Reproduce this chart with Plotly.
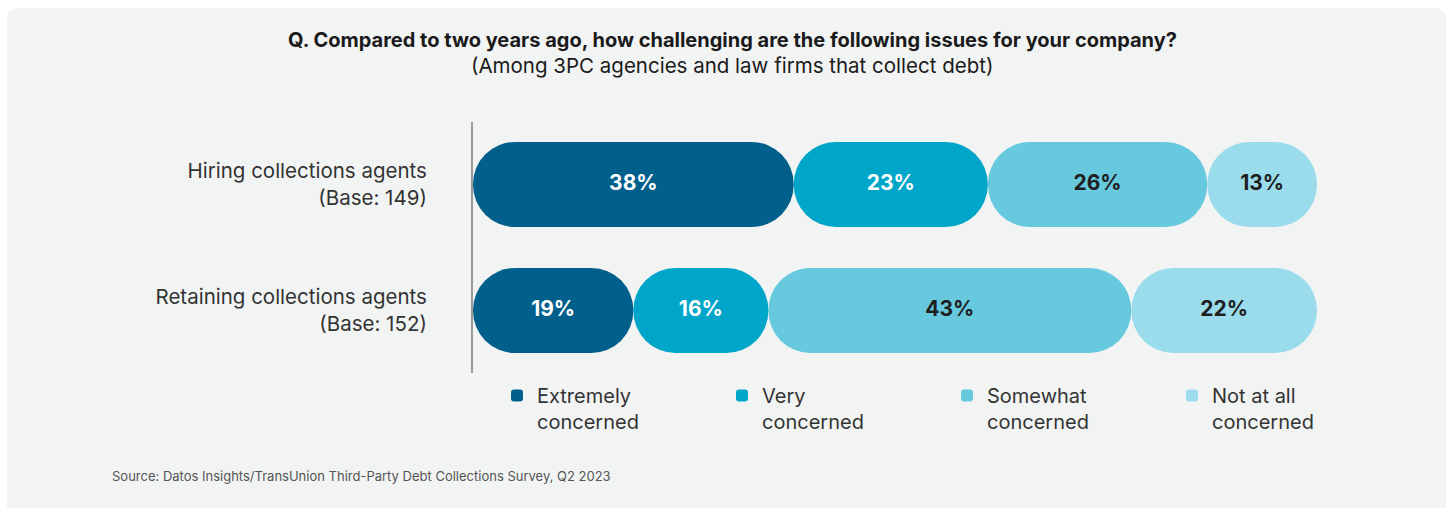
import plotly.graph_objects as go

# Survey rows and answer shares (%)
rows = ["Hiring collections agents<br>(Base: 149)", "Retaining collections agents<br>(Base: 152)"]
levels = ["Extremely<br>concerned", "Very<br>concerned", "Somewhat<br>concerned", "Not at all<br>concerned"]
extremely = [38, 19]
very = [23, 16]
somewhat = [26, 43]
not_at_all = [13, 22]

colors = ["#00608b", "#00a6c9", "#66c9de", "#9bdcec"]
label_colors = ["#ffffff", "#ffffff", "#1e1e1e", "#1e1e1e"]
FONT = "Inter"

series = [extremely, very, somewhat, not_at_all]
ypos = list(range(len(rows)))
BAR_W = 0.675

fig = go.Figure()

starts = [0.0] * len(rows)
for k, (name, vals) in enumerate(zip(levels, series)):
    s = starts[:]
    e = [a + v for a, v in zip(s, vals)]
    m = [(a + b) / 2 for a, b in zip(s, e)]
    # each answer share is its own pill, placed after the previous ones
    fig.add_trace(go.Bar(
        y=ypos, base=s, x=vals, orientation="h", width=BAR_W, name=name,
        marker=dict(color=colors[k], line=dict(width=0), cornerradius="50%"),
        hoverinfo="skip",
    ))
    # value labels centred on each pill
    fig.add_trace(go.Scatter(
        x=m, y=ypos, mode="text", text=[f"<b>{v}%</b>" for v in vals],
        textposition="middle center",
        textfont=dict(family=FONT, size=21, color=label_colors[k]),
        showlegend=False, hoverinfo="skip",
    ))
    starts = e

# pixel geometry: 0..100 % spans x = 473..1317; plot area extends to 1430 to leave room for the legend
L, R_FULL, R_AREA, T, B = 473, 1317, 1430, 122, 373
W, H = 1450, 508
x_max = 100 * (R_AREA - L) / (R_FULL - L)

def px(xp):
    return (xp - L) / (R_AREA - L)

def py(yp):
    return (B - yp) / (B - T)

# light panel with rounded top corners
x0, x1, y0, y1, r = 7, 1446, 8, 530, 12
panel = (
    f"M {px(x0)},{py(y1)} L {px(x0)},{py(y0 + r)} Q {px(x0)},{py(y0)} {px(x0 + r)},{py(y0)} "
    f"L {px(x1 - r)},{py(y0)} Q {px(x1)},{py(y0)} {px(x1)},{py(y0 + r)} L {px(x1)},{py(y1)} Z"
)

fig.update_layout(
    width=W, height=H,
    margin=dict(l=L, r=W - R_AREA, t=T, b=H - B, pad=0, autoexpand=False),
    paper_bgcolor="#ffffff",
    plot_bgcolor="rgba(0,0,0,0)",
    barmode="overlay",
    font=dict(family=FONT, color="#333333"),
    shapes=[dict(type="path", path=panel, xref="paper", yref="paper",
                 fillcolor="#f2f4f4", line=dict(width=0), layer="below")],
    xaxis=dict(range=[0, x_max], visible=False, fixedrange=True),
    yaxis=dict(
        range=[1.496, -0.496], tickmode="array", tickvals=ypos, ticktext=rows,
        showline=True, linecolor="#9a9a9a", linewidth=2, showgrid=False, zeroline=False,
        ticks="outside", ticklen=40, tickcolor="rgba(0,0,0,0)",
        tickfont=dict(family=FONT, size=20.5, color="#333333"),
        fixedrange=True,
    ),
    legend=dict(
        orientation="h", x=px(497), xanchor="left", y=py(376), yanchor="top",
        valign="top", entrywidth=180, entrywidthmode="pixels",
        font=dict(family=FONT, size=20, color="#333333"),
        bgcolor="rgba(0,0,0,0)", traceorder="normal",
    ),
    annotations=[
        dict(text="<b>Q. Compared to two years ago, how challenging are the following issues for your company?</b>",
             x=px(732), y=py(40), xref="paper", yref="paper", xanchor="center", yanchor="middle",
             showarrow=False, font=dict(family=FONT, size=20, color="#1a1a1a")),
        dict(text="(Among 3PC agencies and law firms that collect debt)",
             x=px(732), y=py(65), xref="paper", yref="paper", xanchor="center", yanchor="middle",
             showarrow=False, font=dict(family=FONT, size=20.5, color="#1a1a1a")),
        dict(text="Source: Datos Insights/TransUnion Third-Party Debt Collections Survey, Q2 2023",
             x=px(110), y=py(476), xref="paper", yref="paper", xanchor="left", yanchor="middle",
             showarrow=False, font=dict(family=FONT, size=13, color="#555555")),
    ],
)

fig.write_html("out.html")
